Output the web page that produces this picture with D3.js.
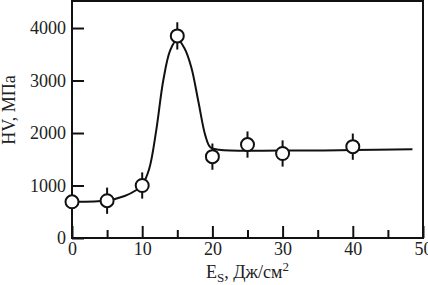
<!DOCTYPE html>
<html>
<head>
<meta charset="utf-8">
<script src="https://cdn.jsdelivr.net/npm/d3@7"></script>
<style>
  body { margin: 0; background: #fff; }
  svg { display: block; }
  .axis text { font-family: "Liberation Serif", "DejaVu Serif", serif; font-size: 18px; fill: #222; }
  .axis path { display: none; }
  .axis line { stroke: #111; stroke-width: 2px; }
</style>
</head>
<body>
<div id="chart"></div>
<script>
// Data
const energy = [0, 5, 10, 15, 20, 25, 30, 40];
const hardness = [690, 710, 1000, 3850, 1550, 1780, 1610, 1740];
const errors = [250, 250, 250, 260, 250, 250, 250, 250];

// fitted curve drawn through the data
const curveE = [0, 5, 7.5, 9, 10, 11, 12, 13, 14, 15, 16, 17, 18, 19, 19.7, 21, 30, 40, 48.5];
const curveHV = [690, 715, 800, 900, 1010, 1320, 2050, 3000, 3580, 3780, 3620, 3250, 2600, 1950, 1730, 1680, 1665, 1675, 1690];

const xMajor = [0, 10, 20, 30, 40, 50];
const xMinor = [5, 15, 25, 35, 45];
const yMajor = [0, 1000, 2000, 3000, 4000];

function draw() {
  // Dimensions
  const dimensions = {
    width: 428,
    height: 285,
    margins: { top: 1, right: 5, bottom: 47, left: 72 },
  };
  dimensions.ctrWidth = dimensions.width - dimensions.margins.left - dimensions.margins.right;
  dimensions.ctrHeight = dimensions.height - dimensions.margins.top - dimensions.margins.bottom;

  const svg = d3
    .select("#chart")
    .append("svg")
    .attr("width", dimensions.width)
    .attr("height", dimensions.height);

  const ctr = svg
    .append("g")
    .attr("transform", `translate(${dimensions.margins.left}, ${dimensions.margins.top})`);

  // Scales
  const xScale = d3.scaleLinear().domain([0, 50]).range([0, dimensions.ctrWidth]);
  const yScale = d3.scaleLinear().domain([0, 4515]).range([dimensions.ctrHeight, 0]);

  // Axes (ticks point inward)
  ctr
    .append("g")
    .classed("axis", true)
    .attr("transform", `translate(0, ${dimensions.ctrHeight})`)
    .call(d3.axisBottom(xScale).tickValues(xMinor).tickSizeInner(-8).tickSizeOuter(0).tickFormat(""));

  ctr
    .append("g")
    .classed("axis", true)
    .attr("transform", `translate(0, ${dimensions.ctrHeight})`)
    .call(d3.axisBottom(xScale).tickValues(xMajor).tickSizeInner(-12).tickSizeOuter(0).tickPadding(4).tickFormat(d3.format("d")));

  ctr
    .append("g")
    .classed("axis", true)
    .call(d3.axisLeft(yScale).tickValues(yMajor).tickSizeInner(-12).tickSizeOuter(0).tickPadding(6).tickFormat(d3.format("d")));

  // Frame
  ctr
    .append("rect")
    .attr("x", 0)
    .attr("y", 0)
    .attr("width", dimensions.ctrWidth)
    .attr("height", dimensions.ctrHeight)
    .attr("fill", "none")
    .attr("stroke", "#111")
    .attr("stroke-width", 2);

  // Curve
  const line = d3
    .line()
    .x((d, i) => xScale(curveE[i]))
    .y((d) => yScale(d))
    .curve(d3.curveCatmullRom.alpha(0.5));

  ctr
    .append("path")
    .datum(curveHV)
    .attr("d", line)
    .attr("fill", "none")
    .attr("stroke", "#111")
    .attr("stroke-width", 2);

  // Error bars
  ctr
    .selectAll(".err")
    .data(energy)
    .join("line")
    .classed("err", true)
    .attr("x1", (d) => xScale(d))
    .attr("x2", (d) => xScale(d))
    .attr("y1", (d, i) => yScale(hardness[i] + errors[i]))
    .attr("y2", (d, i) => yScale(hardness[i] - errors[i]))
    .attr("stroke", "#111")
    .attr("stroke-width", 2);

  // Points
  ctr
    .selectAll("circle")
    .data(energy)
    .join("circle")
    .attr("cx", (d) => xScale(d))
    .attr("cy", (d, i) => yScale(hardness[i]))
    .attr("r", 6.5)
    .attr("fill", "#fff")
    .attr("stroke", "#111")
    .attr("stroke-width", 2);

  // Axis titles
  const xTitle = svg
    .append("text")
    .attr("x", dimensions.margins.left + dimensions.ctrWidth / 2)
    .attr("y", 278)
    .attr("text-anchor", "middle")
    .style("font-family", "Liberation Serif, serif")
    .style("font-size", "18px")
    .attr("fill", "#222");
  xTitle.append("tspan").text("E");
  xTitle.append("tspan").attr("dy", 4).style("font-size", "13px").text("S");
  xTitle.append("tspan").attr("dy", -4).text(", Дж/см");
  xTitle.append("tspan").attr("dy", -7).style("font-size", "13px").text("2");

  svg
    .append("text")
    .attr("transform", "translate(15, 110) rotate(-90)")
    .attr("text-anchor", "middle")
    .style("font-family", "Liberation Serif, serif")
    .style("font-size", "18px")
    .attr("fill", "#222")
    .text("HV, МПа");
}

draw();
</script>
</body>
</html>
